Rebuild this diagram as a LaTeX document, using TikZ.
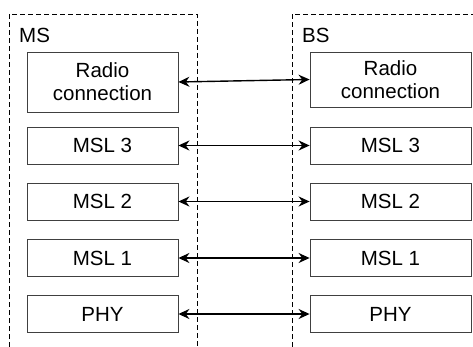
\documentclass[tikz,border=0pt]{standalone}
\usepackage{fontspec}
\setmainfont{Liberation Sans}
\usetikzlibrary{arrows.meta}
\begin{document}
\begin{tikzpicture}[x=1pt, y=-1pt,
    layer/.style={draw=black!75, line width=0.8pt, align=center, inner sep=0pt, font=\fontsize{20.5}{23}\selectfont},
    side/.style={font=\fontsize{20.5}{23}\selectfont, anchor=base west, inner sep=0pt},
    link/.style={{Stealth[length=11pt,width=10pt]}-{Stealth[length=11pt,width=10pt]}, line width=1.4pt}]
      \useasboundingbox (0, 0) rectangle (473, 347);

      \draw [dash pattern=on 5pt off 3pt] (9, 347) -- (9, 14) -- (197, 14) -- (197, 347);
      \draw [dash pattern=on 5pt off 3pt] (292, 347) -- (292, 14) -- (473, 14);
      \node [side] (ms) at (19, 43) {MS};
      \node [side] (bs) at (302, 43) {BS};

      \node [layer, minimum width=151pt, minimum height=60pt] (ms-radio) at (102.5, 82) {Radio\\connection};
      \node [layer, minimum width=151pt, minimum height=37pt] (ms-msl3) at (102.5, 145.5) {MSL 3};
      \node [layer, minimum width=151pt, minimum height=37pt] (ms-msl2) at (102.5, 201.5) {MSL 2};
      \node [layer, minimum width=151pt, minimum height=37pt] (ms-msl1) at (102.5, 258) {MSL 1};
      \node [layer, minimum width=151pt, minimum height=37pt] (ms-phy) at (102.5, 314) {PHY};

      \node [layer, minimum width=161pt, minimum height=55pt] (bs-radio) at (390.5, 79.5) {Radio\\connection};
      \node [layer, minimum width=161pt, minimum height=37pt] (bs-msl3) at (390.5, 145.5) {MSL 3};
      \node [layer, minimum width=161pt, minimum height=37pt] (bs-msl2) at (390.5, 201.5) {MSL 2};
      \node [layer, minimum width=161pt, minimum height=37pt] (bs-msl1) at (390.5, 258) {MSL 1};
      \node [layer, minimum width=161pt, minimum height=37pt] (bs-phy) at (390.5, 314) {PHY};

      \draw [link] (ms-radio.east) -- (bs-radio.west);
      \draw [link] (ms-msl3) -- (bs-msl3);
      \draw [link] (ms-msl2) -- (bs-msl2);
      \draw [link] (ms-msl1) -- (bs-msl1);
      \draw [link] (ms-phy) -- (bs-phy);
    \end{tikzpicture}
\end{document}
